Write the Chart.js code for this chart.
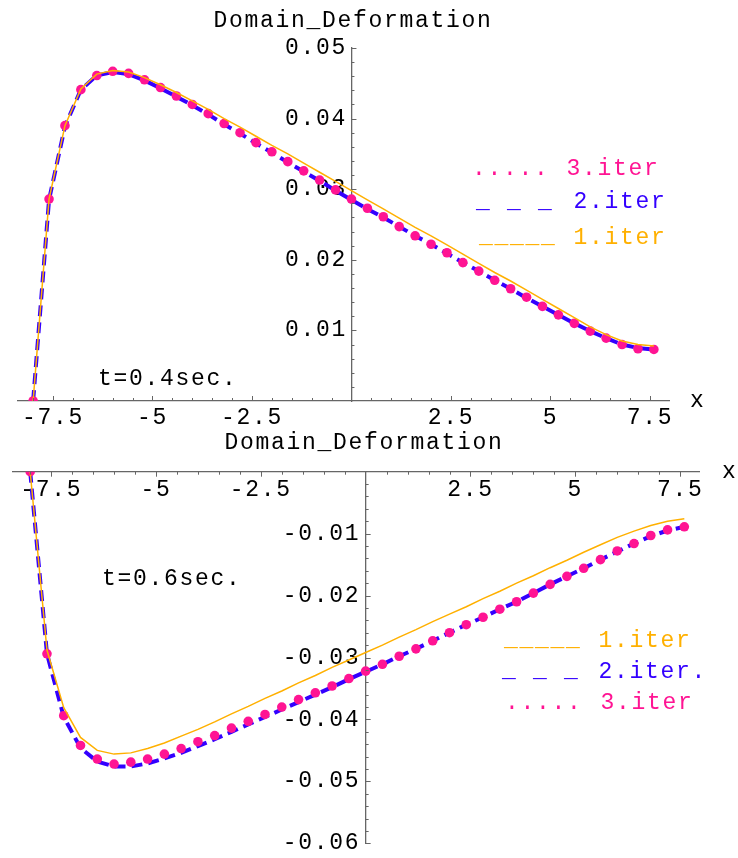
<!DOCTYPE html>
<html>
<head>
<meta charset="utf-8">
<title>Domain_Deformation</title>
<script src="https://cdn.jsdelivr.net/npm/chart.js@4.4.1/dist/chart.umd.min.js"></script>
<style>
  html, body { margin:0; padding:0; background:#fff; overflow:hidden; }
  #wrap { position:relative; width:738px; height:858px; }
  canvas { position:absolute; left:0; }
  #topChart { top:0; }
  #bottomChart { top:430px; }
</style>
</head>
<body>
<div id="wrap">
  <canvas id="topChart" width="738" height="430"></canvas>
  <canvas id="bottomChart" width="738" height="428"></canvas>
</div>
<script>
  // grid points along x
  const xs = [-8, -7.6, -7.2, -6.8, -6.4, -6, -5.6, -5.2, -4.8, -4.4,
              -4, -3.6, -3.2, -2.8, -2.4, -2, -1.6, -1.2, -0.8, -0.4,
              0, 0.4, 0.8, 1.2, 1.6, 2, 2.4, 2.8, 3.2, 3.6,
              4, 4.4, 4.8, 5.2, 5.6, 6, 6.4, 6.8, 7.2, 7.6];

  // t = 0.4 sec
  const top1 = [0, 0.0286, 0.0390, 0.0442, 0.0463, 0.0468, 0.0466, 0.0458, 0.0448, 0.0437,
                0.0425, 0.0413, 0.0400, 0.0388, 0.0375, 0.0362, 0.0350, 0.0337, 0.0324, 0.0311,
                0.0298, 0.0285, 0.0272, 0.0259, 0.0246, 0.0234, 0.0221, 0.0208, 0.0195, 0.0182,
                0.0170, 0.0157, 0.0144, 0.0131, 0.0118, 0.0105, 0.0094, 0.0085, 0.0080, 0.0078];
  const top2 = [0, 0.0285, 0.0389, 0.0441, 0.0461, 0.0466, 0.0463, 0.0454, 0.0443, 0.0431,
                0.0419, 0.0406, 0.0392, 0.0379, 0.0365, 0.0352, 0.0338, 0.0325, 0.0312, 0.0298,
                0.0285, 0.0272, 0.0260, 0.0247, 0.0234, 0.0222, 0.0209, 0.0196, 0.0184, 0.0171,
                0.0159, 0.0146, 0.0134, 0.0122, 0.0110, 0.0099, 0.0089, 0.0080, 0.0075, 0.0073];
  const top3 = [0, 0.0286, 0.0390, 0.0441, 0.0461, 0.0467, 0.0464, 0.0455, 0.0444, 0.0432,
                0.0420, 0.0407, 0.0393, 0.0380, 0.0366, 0.0353, 0.0339, 0.0326, 0.0313, 0.0299,
                0.0286, 0.0273, 0.0261, 0.0247, 0.0234, 0.0222, 0.0210, 0.0196, 0.0184, 0.0171,
                0.0159, 0.0147, 0.0134, 0.0122, 0.0110, 0.0099, 0.0089, 0.0080, 0.0074, 0.0073];

  // t = 0.6 sec
  const bot1 = [0, -0.0288, -0.0381, -0.0429, -0.0450, -0.0456, -0.0454, -0.0447, -0.0438, -0.0427,
                -0.0416, -0.0404, -0.0391, -0.0379, -0.0366, -0.0354, -0.0341, -0.0329, -0.0316, -0.0304,
                -0.0292, -0.0280, -0.0267, -0.0255, -0.0242, -0.0230, -0.0218, -0.0205, -0.0193, -0.0180,
                -0.0168, -0.0155, -0.0143, -0.0130, -0.0118, -0.0106, -0.0096, -0.0087, -0.0080, -0.0076];
  const bot2 = [0, -0.0294, -0.0396, -0.0446, -0.0468, -0.0476, -0.0476, -0.0471, -0.0463, -0.0454,
                -0.0443, -0.0432, -0.0420, -0.0408, -0.0396, -0.0384, -0.0372, -0.0360, -0.0348, -0.0335,
                -0.0323, -0.0311, -0.0298, -0.0286, -0.0273, -0.0260, -0.0247, -0.0235, -0.0222, -0.0210,
                -0.0196, -0.0182, -0.0169, -0.0156, -0.0142, -0.0129, -0.0116, -0.0104, -0.0095, -0.0089];
  const bot3 = [0, -0.0294, -0.0394, -0.0442, -0.0464, -0.0472, -0.0469, -0.0464, -0.0456, -0.0447,
                -0.0436, -0.0426, -0.0414, -0.0403, -0.0392, -0.0380, -0.0368, -0.0357, -0.0346, -0.0334,
                -0.0322, -0.0311, -0.0298, -0.0286, -0.0273, -0.0260, -0.0247, -0.0235, -0.0222, -0.0210,
                -0.0196, -0.0182, -0.0169, -0.0156, -0.0142, -0.0128, -0.0116, -0.0103, -0.0094, -0.0089];

  // labelled ticks
  const xTickVals = [-7.5, -5, -2.5, 2.5, 5, 7.5];
  const topYTickVals = [0.01, 0.02, 0.03, 0.04, 0.05];
  const botYTickVals = [-0.01, -0.02, -0.03, -0.04, -0.05, -0.06];

  const FAMILY = '"Liberation Mono", "Courier New", monospace';
  const FONT = '23px ' + FAMILY;
  const SPACING = '1.7px';
  const ORANGE = '#ffb000', BLUE = '#3300ff', PINK = '#ff1493', AXIS = '#666';

  function pts(ys){ return xs.map((x, i) => ({ x: x, y: ys[i] })); }

  function makeDatasets(s1, s2, s3){
    // first in list is drawn on top
    return [
      { label: '1.iter', data: pts(s1), borderColor: ORANGE, borderWidth: 1.5, pointRadius: 0, tension: 0, fill: false },
      { label: '3.iter', data: pts(s3), showLine: false, pointRadius: 4.8, pointBorderWidth: 0,
        pointBackgroundColor: PINK, borderColor: PINK, backgroundColor: PINK },
      { label: '2.iter', data: pts(s2), borderColor: BLUE, borderWidth: 4, borderDash: [11, 6], pointRadius: 0, tension: 0, fill: false }
    ];
  }

  // y labels left of the crossing axis, minor/major tick marks, free text
  function decoPlugin(cfg){
    return {
      id: 'deco',
      beforeDraw(chart){ chart.ctx.letterSpacing = SPACING; },
      beforeDatasetsDraw(chart){
        const ctx = chart.ctx, sx = chart.scales.x, sy = chart.scales.y;
        const ax = sx.getPixelForValue(0);
        ctx.save();
        ctx.font = FONT;
        ctx.letterSpacing = SPACING;
        ctx.fillStyle = '#000';
        ctx.textAlign = 'right';
        ctx.textBaseline = 'middle';
        sy.ticks.forEach(t => {
          ctx.fillText(t.value.toFixed(2), ax - cfg.yLabelGap, sy.getPixelForValue(t.value));
        });
        ctx.restore();
      },
      afterDraw(chart){
        const ctx = chart.ctx, sx = chart.scales.x, sy = chart.scales.y;
        const ax = sx.getPixelForValue(0), ay = sy.getPixelForValue(0);
        ctx.save();
        ctx.strokeStyle = AXIS;
        ctx.lineWidth = 1;
        ctx.beginPath();
        for(let k = -16; k <= 15; k++){
          if(k === 0) continue;
          const px = Math.round(sx.getPixelForValue(k / 2)) + 0.5;
          const len = (k % 5 === 0) ? 5 : 3;
          ctx.moveTo(px, ay);
          ctx.lineTo(px, ay + cfg.xTickDir * len);
        }
        for(let k = 1; k <= cfg.yMinorCount; k++){
          const py = Math.round(sy.getPixelForValue(cfg.ySign * k * 0.002)) + 0.5;
          const len = (k % 5 === 0) ? 5 : 3;
          ctx.moveTo(ax, py);
          ctx.lineTo(ax + len, py);
        }
        ctx.stroke();

        ctx.font = FONT;
        ctx.letterSpacing = SPACING;
        ctx.textBaseline = 'alphabetic';
        cfg.texts.forEach(t => {
          ctx.fillStyle = t.c || '#000';
          ctx.textAlign = t.align || 'left';
          ctx.fillText(t.t, t.x, t.y);
        });
        ctx.restore();
      }
    };
  }

  function makeChart(id, datasets, xr, yr, yTicks, pad, xLabelPad, deco){
    return new Chart(document.getElementById(id), {
      type: 'line',
      data: { datasets: datasets },
      options: {
        responsive: false,
        animation: false,
        devicePixelRatio: 1,
        layout: { padding: pad },
        plugins: { legend: { display: false }, tooltip: { enabled: false }, title: { display: false } },
        scales: {
          x: {
            type: 'linear', min: xr[0], max: xr[1], position: { y: 0 },
            afterBuildTicks: s => { s.ticks = xTickVals.map(v => ({ value: v })); },
            ticks: { callback: v => String(v), color: '#000', padding: xLabelPad, maxRotation: 0, autoSkip: false,
                     font: { family: FAMILY, size: 23, lineHeight: 1 } },
            grid: { display: true, drawOnChartArea: false, drawTicks: false, color: 'transparent' },
            border: { display: true, color: AXIS, width: 1.3 }
          },
          y: {
            type: 'linear', min: yr[0], max: yr[1], position: { x: 0 },
            afterBuildTicks: s => { s.ticks = yTicks.map(v => ({ value: v })); },
            // labels are painted by the deco plugin with a gap from the axis
            ticks: { display: false, font: { family: FAMILY, size: 23, lineHeight: 1 } },
            grid: { display: true, drawOnChartArea: false, drawTicks: false, color: 'transparent' },
            border: { display: true, color: AXIS, width: 1.3 }
          }
        }
      },
      plugins: [decoPlugin(deco)]
    });
  }

  makeChart('topChart', makeDatasets(top1, top2, top3), [-8.38, 7.98], [0, 0.05], topYTickVals,
    { left: 18, right: 69, top: 48, bottom: 29 }, 5.5,
    { xTickDir: -1, ySign: 1, yMinorCount: 25, yLabelGap: 4.5, texts: [
      { t: 'Domain_Deformation', x: 353, y: 27, align: 'center' },
      { t: 'x', x: 690, y: 407 },
      { t: 't=0.4sec.', x: 98, y: 385 },
      { t: '.....', x: 472, y: 175, c: PINK },
      { t: '3.iter', x: 566.5, y: 175, c: PINK },
      { t: '_ _ _', x: 476, y: 208, c: BLUE },
      { t: '2.iter', x: 573.5, y: 208, c: BLUE },
      { t: '_____', x: 479, y: 243, c: ORANGE },
      { t: '1.iter', x: 573.5, y: 244, c: ORANGE }
    ] });

  makeChart('bottomChart', makeDatasets(bot1, bot2, bot3), [-8.41, 7.95], [-0.06, 0], botYTickVals,
    { left: 13, right: 39, top: 41.7, bottom: 14.7 }, 7,
    { xTickDir: 1, ySign: -1, yMinorCount: 30, yLabelGap: 5.5, texts: [
      { t: 'Domain_Deformation', x: 364, y: 18.5, align: 'center' },
      { t: 'x', x: 722, y: 48 },
      { t: 't=0.6sec.', x: 102, y: 154.5 },
      { t: '_____', x: 504, y: 216, c: ORANGE },
      { t: '1.iter', x: 598.5, y: 217, c: ORANGE },
      { t: '_ _ _', x: 502, y: 247, c: BLUE },
      { t: '2.iter.', x: 598.5, y: 248, c: BLUE },
      { t: '.....', x: 505, y: 279, c: PINK },
      { t: '3.iter', x: 600.5, y: 279, c: PINK }
    ] });
</script>
</body>
</html>
